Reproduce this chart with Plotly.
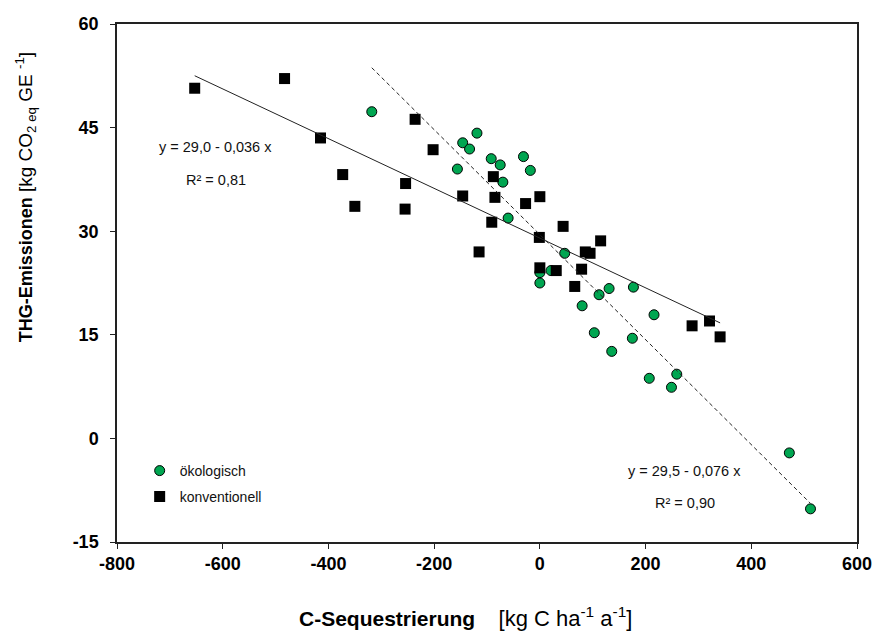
import plotly.graph_objects as go

# ---- data ----
eco_x = [-318, -156, -146, -133, -119, -92, -75, -70, -31, -18, -60, 47, 0, 21, 0,
         112, 131, 177, 80, 216, 103, 175, 136, 259, 207, 249, 472, 512]
eco_y = [47.3, 39.0, 42.8, 41.9, 44.2, 40.5, 39.6, 37.1, 40.8, 38.8, 31.9, 26.8, 24.0, 24.3, 22.5,
         20.8, 21.7, 21.9, 19.2, 17.9, 15.3, 14.5, 12.6, 9.3, 8.7, 7.4, -2.1, -10.2]

conv_x = [-653, -483, -415, -373, -350, -254, -255, -236, -202, -146, -115, -91, -88, -85,
          -27, 0, 44, -1, 86, 95, 115, 0, 31, 79, 66, 288, 321, 341]
conv_y = [50.7, 52.1, 43.5, 38.2, 33.6, 36.9, 33.2, 46.2, 41.8, 35.1, 27.0, 31.3, 37.9, 34.9,
          34.0, 35.0, 30.7, 29.1, 27.0, 26.8, 28.6, 24.7, 24.3, 24.5, 22.0, 16.3, 17.0, 14.7]

eco_fit = [29.5, -0.076]    # intercept, slope
conv_fit = [29.0, -0.036]

series_names = ["ökologisch", "konventionell"]
eq_texts = ["y = 29,0 - 0,036 x", "R² = 0,81", "y = 29,5 - 0,076 x", "R² = 0,90"]
x_ticks = [-800, -600, -400, -200, 0, 200, 400, 600]
y_ticks = [-15, 0, 15, 30, 45, 60]

FONT = "Liberation Sans, Arial, sans-serif"

W, H = 884, 633
L, T, R, B = 117, 24, 16, 91
pw, ph = W - L - R, H - T - B


def px2paper(px, py):
    """page pixel -> paper coordinates"""
    return (px - L) / pw, (H - B - py) / ph


fig = go.Figure()

fig.add_trace(go.Scatter(
    x=eco_x, y=eco_y, mode="markers", name=series_names[0], legend="legend",
    marker=dict(symbol="circle", size=10, color="#00A651", line=dict(color="black", width=1)),
))
fig.add_trace(go.Scatter(
    x=conv_x, y=conv_y, mode="markers", name=series_names[1], legend="legend2",
    marker=dict(symbol="square", size=11, color="black", line=dict(color="black", width=0)),
))

# regression lines
cx = [min(conv_x), max(conv_x)]
fig.add_trace(go.Scatter(
    x=cx, y=[conv_fit[0] + conv_fit[1] * v for v in cx], mode="lines",
    line=dict(color="#222222", width=1), showlegend=False, hoverinfo="skip",
))
ex = [min(eco_x), max(eco_x)]
fig.add_trace(go.Scatter(
    x=ex, y=[eco_fit[0] + eco_fit[1] * v for v in ex], mode="lines",
    line=dict(color="#222222", width=1, dash="4px,3px"), showlegend=False, hoverinfo="skip",
))

annos = []
for txt, (px, py) in zip(eq_texts, [(217, 147), (217, 180), (693, 471), (693, 503)]):
    xx, yy = px2paper(px, py)
    annos.append(dict(x=xx, y=yy, xref="paper", yref="paper", text=txt, showarrow=False,
                      xanchor="center", yanchor="middle",
                      font=dict(family=FONT, size=14.5, color="#111111")))

xx, yy = px2paper(300, 617)
annos.append(dict(x=xx, y=yy, xref="paper", yref="paper", showarrow=False,
                  xanchor="left", yanchor="middle",
                  text="<b>C-Sequestrierung</b>&nbsp;&nbsp;&nbsp;&nbsp;"
                       "<span style='font-size:22px'>[kg C ha<sup>-1</sup> a<sup>-1</sup>]</span>",
                  font=dict(family=FONT, size=21, color="black")))
xx, yy = px2paper(24, 197)
annos.append(dict(x=xx, y=yy, xref="paper", yref="paper", showarrow=False, textangle=-90,
                  xanchor="center", yanchor="middle",
                  text="<b>THG-Emissionen</b>"
                       "<span style='font-size:19px'> [kg CO<sub>2 eq</sub> GE <sup>-1</sup>]</span>",
                  font=dict(family=FONT, size=18, color="black")))

l1x, l1y = px2paper(140, 471)
l2x, l2y = px2paper(140, 497)
leg_common = dict(xanchor="left", yanchor="middle", bgcolor="rgba(0,0,0,0)",
                  font=dict(family=FONT, size=14, color="#111111"), itemwidth=30)

fig.update_layout(
    width=W, height=H,
    margin=dict(l=L, r=R, t=T, b=B, pad=0),
    paper_bgcolor="white", plot_bgcolor="white",
    font=dict(family=FONT, color="black"),
    showlegend=True,
    legend=dict(x=l1x, y=l1y, **leg_common),
    legend2=dict(x=l2x, y=l2y, **leg_common),
    annotations=annos,
)
fig.update_xaxes(range=[-800, 600], tickvals=x_ticks, ticktext=[str(v) for v in x_ticks],
                 showgrid=False, zeroline=False, showline=True, linecolor="#222222", linewidth=1.5,
                 mirror=True, ticks="outside", ticklen=5, tickcolor="#222222",
                 tickfont=dict(family=FONT, size=18, weight="bold", color="black"))
fig.update_yaxes(range=[-15, 60], tickvals=y_ticks, ticktext=[str(v) for v in y_ticks],
                 showgrid=False, zeroline=False, showline=True, linecolor="#222222", linewidth=1.5,
                 mirror=True, ticks="outside", ticklen=5, tickcolor="#222222", ticklabelstandoff=8,
                 tickfont=dict(family=FONT, size=18, weight="bold", color="black"))

# remove the default 8px page margin so the figure sits at the window's top-left corner
fig.write_html("out.html", config={"displayModeBar": False},
               post_script="document.body.style.margin='0';document.body.style.overflow='hidden';")
